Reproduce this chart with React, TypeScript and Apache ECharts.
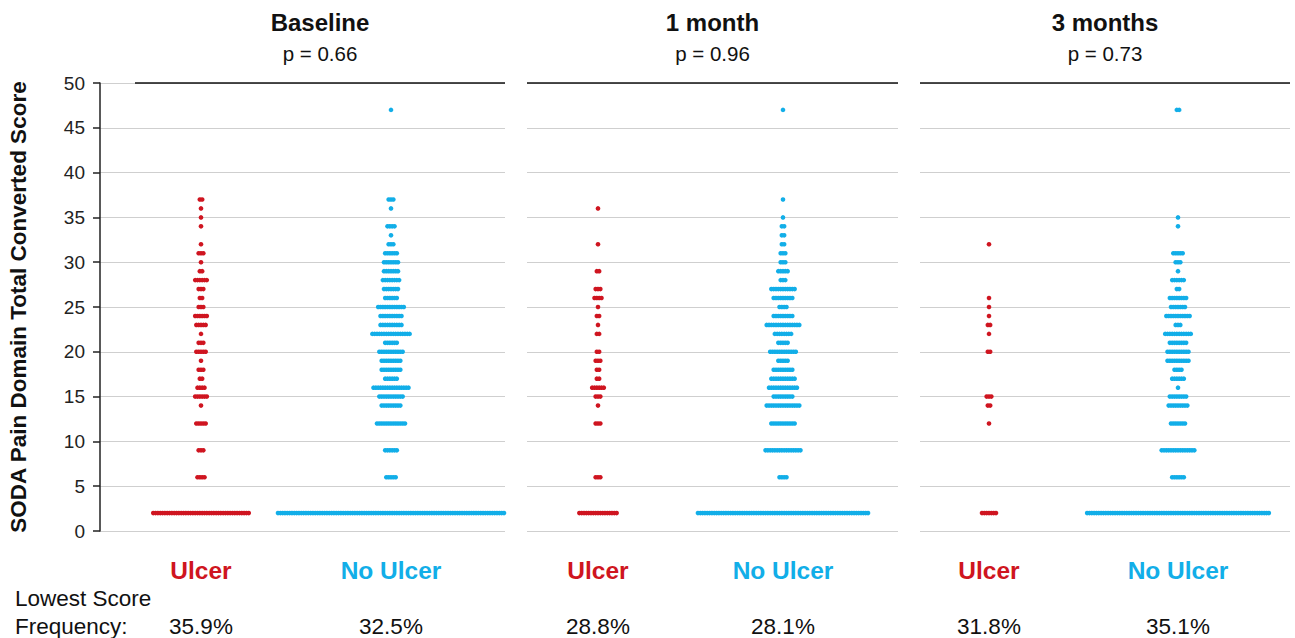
import React, { useEffect, useRef } from "react";
import * as echarts from "echarts";

// Score rows (y values) shared by every group
const scores = [47, 37, 36, 35, 34, 33, 32, 31, 30, 29, 28, 27, 26, 25, 24, 23, 22, 21, 20, 19, 18, 17, 16, 15, 14, 12, 9, 6, 2];

// Number of patients at each score (aligned with `scores`)
const baselineUlcer = [0, 2, 1, 1, 1, 0, 1, 3, 1, 2, 6, 3, 2, 3, 6, 5, 1, 3, 5, 1, 3, 2, 4, 6, 1, 5, 3, 4, 42];
const baselineNoUlcer = [1, 3, 1, 0, 4, 1, 3, 6, 7, 7, 8, 7, 6, 12, 10, 10, 17, 6, 11, 9, 9, 6, 16, 11, 9, 13, 6, 5, 98];
const month1Ulcer = [0, 0, 1, 0, 0, 0, 1, 0, 0, 2, 0, 3, 4, 1, 2, 1, 2, 0, 2, 3, 2, 2, 6, 3, 1, 3, 0, 3, 17];
const month1NoUlcer = [1, 1, 0, 1, 2, 2, 2, 3, 3, 5, 3, 11, 9, 4, 9, 15, 8, 5, 12, 5, 9, 11, 13, 9, 15, 11, 16, 4, 74];
const month3Ulcer = [0, 0, 0, 0, 0, 0, 1, 0, 0, 0, 0, 0, 1, 1, 1, 2, 1, 0, 2, 0, 0, 0, 0, 3, 2, 1, 0, 0, 7];
const month3NoUlcer = [2, 0, 0, 1, 1, 0, 0, 5, 3, 1, 6, 2, 8, 7, 11, 3, 12, 8, 10, 10, 4, 6, 1, 8, 9, 7, 15, 6, 79];

const panelTitles = ["Baseline", "1 month", "3 months"];
const pValues = ["p = 0.66", "p = 0.96", "p = 0.73"];
const groupLabels = ["Ulcer", "No Ulcer"];
const lowestFreq = ["35.9%", "32.5%", "28.8%", "28.1%", "31.8%", "35.1%"];
const yMin = 0;
const yMax = 50;
const yInterval = 5;
const yTitle = "SODA Pain Domain Total Converted Score";

const groupData = [
  [baselineUlcer, baselineNoUlcer],
  [month1Ulcer, month1NoUlcer],
  [month3Ulcer, month3NoUlcer],
];

// Layout (pixels)
const RED = "#cf1520";
const BLUE = "#12aee8";
const FONT = "'Liberation Sans', Arial, Helvetica, sans-serif";
const TOP = 83;
const HEIGHT = 448;
const STEP = 2.33;
const DOT = 4.6;
const panels = [
  { left: 100, width: 405, lineStart: 35, centers: [101, 291] },
  { left: 527, width: 371, lineStart: 0, centers: [71, 256] },
  { left: 920, width: 370, lineStart: 0, centers: [69, 258] },
];

export default function App() {
  const ref = useRef<HTMLDivElement>(null);
  useEffect(() => {
    if (!ref.current) return;
    const chart = echarts.init(ref.current, null, { renderer: "svg" });

    const grid = panels.map((p) => ({ left: p.left, top: TOP, width: p.width, height: HEIGHT }));
    const xAxis = panels.map((p, i) => ({
      type: "value",
      gridIndex: i,
      min: 0,
      max: p.width,
      show: false,
    }));
    const yAxis = panels.map((p, i) => ({
      type: "value",
      gridIndex: i,
      min: yMin,
      max: yMax,
      interval: yInterval,
      name: i === 0 ? yTitle : "",
      nameLocation: "middle",
      nameRotate: 90,
      nameGap: 70,
      nameTextStyle: { fontFamily: FONT, fontWeight: "bold", fontSize: 22.5, color: "#111" },
      axisLine: { show: i === 0, lineStyle: { color: "#222", width: 1.5 } },
      axisTick: { show: i === 0, length: 7, lineStyle: { color: "#222", width: 1.5 } },
      axisLabel: { show: i === 0, fontFamily: FONT, fontSize: 19, color: "#222", margin: 15 },
      splitLine: { show: true, lineStyle: { color: "#cfcfcf", width: 1 } },
    }));

    const series: any[] = [];
    panels.forEach((p, pi) => {
      groupData[pi].forEach((counts, gi) => {
        const c = p.centers[gi];
        const data: number[][] = [];
        scores.forEach((s, j) => {
          const n = counts[j];
          for (let k = 0; k < n; k++) data.push([c + (k - (n - 1) / 2) * STEP, s]);
        });
        series.push({
          type: "scatter",
          xAxisIndex: pi,
          yAxisIndex: pi,
          symbol: "circle",
          symbolSize: DOT,
          itemStyle: { color: gi === 0 ? RED : BLUE, opacity: 1 },
          data,
          silent: true,
          markLine:
            gi === 0
              ? {
                  silent: true,
                  symbol: "none",
                  label: { show: false },
                  lineStyle: { color: "#111", width: 1.5, type: "solid" },
                  data: [[{ coord: [p.lineStart, yMax] }, { coord: [p.width, yMax] }]],
                }
              : undefined,
        });
      });
    });

    const graphic: any[] = [];
    panels.forEach((p, pi) => {
      const mid = p.left + p.lineStart + (p.width - p.lineStart) / 2;
      graphic.push({
        type: "text",
        x: mid,
        y: 22,
        style: { text: panelTitles[pi], font: `bold 24px ${FONT}`, fill: "#111", textAlign: "center", textVerticalAlign: "middle" },
      });
      graphic.push({
        type: "text",
        x: mid,
        y: 53,
        style: { text: pValues[pi], font: `20.5px ${FONT}`, fill: "#111", textAlign: "center", textVerticalAlign: "middle" },
      });
      p.centers.forEach((c, gi) => {
        graphic.push({
          type: "text",
          x: p.left + c,
          y: 570,
          style: { text: groupLabels[gi], font: `bold 24.5px ${FONT}`, fill: gi === 0 ? RED : BLUE, textAlign: "center", textVerticalAlign: "middle" },
        });
        graphic.push({
          type: "text",
          x: p.left + c,
          y: 626,
          style: { text: lowestFreq[pi * 2 + gi], font: `22.5px ${FONT}`, fill: "#111", textAlign: "center", textVerticalAlign: "middle" },
        });
      });
    });
    graphic.push({
      type: "text",
      x: 15,
      y: 598,
      style: { text: "Lowest Score", font: `22.5px ${FONT}`, fill: "#111", textAlign: "left", textVerticalAlign: "middle" },
    });
    graphic.push({
      type: "text",
      x: 15,
      y: 626,
      style: { text: "Frequency:", font: `22.5px ${FONT}`, fill: "#111", textAlign: "left", textVerticalAlign: "middle" },
    });

    chart.setOption({
      animation: false,
      backgroundColor: "#fff",
      grid,
      xAxis,
      yAxis,
      series,
      graphic,
    });
    return () => chart.dispose();
  }, []);
  return <div ref={ref} style={{ position: "absolute", left: 0, top: 0, width: 1295, height: 638 }} />;
}
